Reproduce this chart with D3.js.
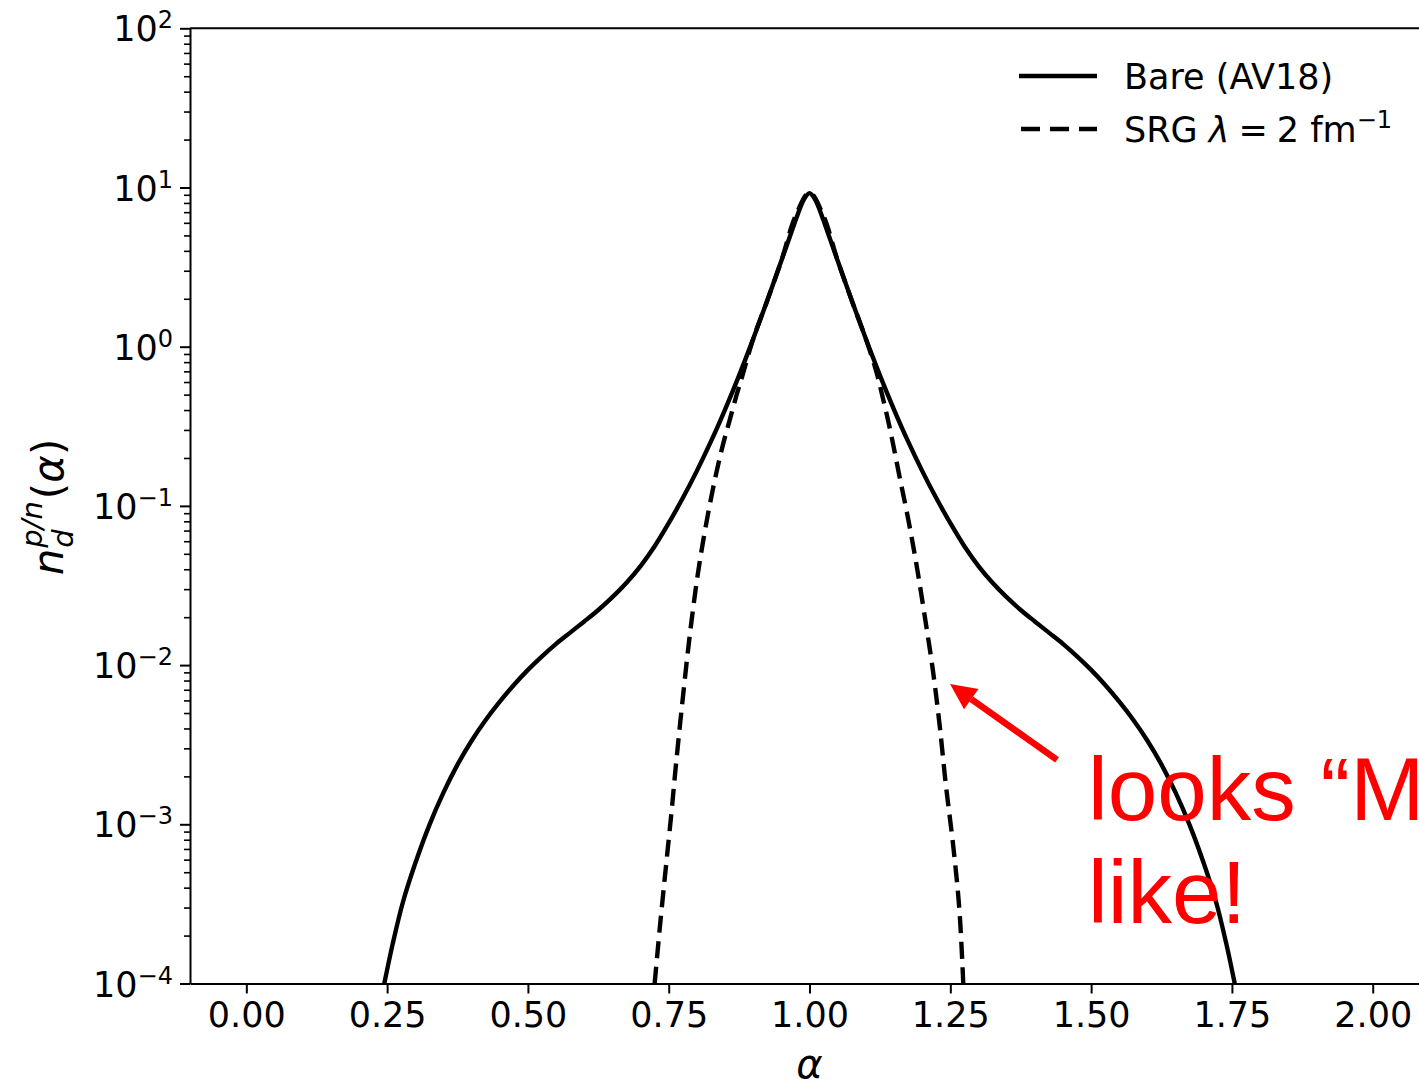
<!DOCTYPE html>
<html>
<head>
<meta charset="utf-8">
<script src="https://cdn.jsdelivr.net/npm/d3@7/dist/d3.min.js"></script>
<style>
  body { margin: 0; background: #fff; overflow: hidden; }
  svg { display: block; }
  text { font-family: "DejaVu Sans", sans-serif; }
</style>
</head>
<body>
<div id="wrapper"></div>
<script>
// Bare (AV18) curve
const bareAlpha = [0.245, 0.26, 0.278, 0.30, 0.325, 0.35, 0.375, 0.40, 0.425, 0.45, 0.475, 0.50, 0.525, 0.55, 0.575,
  0.60, 0.625, 0.65, 0.675, 0.70, 0.725, 0.75, 0.775, 0.80, 0.825, 0.85, 0.875, 0.90, 0.925, 0.95, 0.965, 0.98, 0.99,
  1.00,
  1.01, 1.02, 1.035, 1.05, 1.075, 1.10, 1.125, 1.15, 1.175, 1.20, 1.225, 1.25, 1.275, 1.30, 1.325, 1.35, 1.375,
  1.40, 1.425, 1.45, 1.475, 1.50, 1.525, 1.55, 1.575, 1.60, 1.625, 1.65, 1.675, 1.70, 1.722, 1.74, 1.755]
const bareN = [1.0e-4, 1.78e-4, 3.24e-4, 5.69e-4, 9.89e-4, 1.58e-3, 2.37e-3, 3.35e-3, 4.52e-3, 5.89e-3, 7.50e-3, 9.33e-3, 1.135e-2, 1.36e-2, 1.60e-2,
  1.88e-2, 2.22e-2, 2.67e-2, 3.29e-2, 4.19e-2, 5.58e-2, 7.80e-2, 0.112, 0.166, 0.254, 0.403, 0.661, 1.12, 1.95, 3.47, 4.9, 6.92, 8.41,
  9.22,
  8.41, 6.92, 4.9, 3.47, 1.95, 1.12, 0.661, 0.403, 0.254, 0.166, 0.112, 0.078, 0.0558, 0.0419, 0.0329, 0.0267, 0.0222,
  0.0188, 0.0160, 0.0136, 0.01135, 0.00933, 0.0075, 0.00589, 0.00452, 0.00335, 0.00237, 0.00158, 9.89e-4, 5.69e-4, 3.24e-4, 1.78e-4, 1.0e-4]

// SRG lambda = 2 fm^-1 curve
const srgAlpha = [0.725, 0.735, 0.745, 0.755, 0.763, 0.775, 0.787, 0.80, 0.81, 0.822, 0.834, 0.846, 0.858, 0.87, 0.881,
  0.90, 0.925, 0.95, 0.975, 1.00, 1.025, 1.05, 1.075, 1.10, 1.118, 1.13, 1.145, 1.159, 1.174, 1.189, 1.204, 1.219,
  1.231, 1.242, 1.255, 1.266, 1.273]
const srgN = [1.0e-4, 2.4e-4, 5.4e-4, 1.2e-3, 2.4e-3, 6.2e-3, 1.5e-2, 3.4e-2, 5.7e-2, 9.8e-2, 0.158, 0.24, 0.343, 0.49, 0.66,
  1.12, 1.95, 3.47, 6.6, 9.3, 6.6, 3.47, 1.95, 1.12, 0.71, 0.48, 0.28, 0.158, 0.087, 0.0447, 0.0209, 9.3e-3,
  4.2e-3, 1.78e-3, 7.4e-4, 2.95e-4, 1.0e-4]

const xTicks = [0, 0.25, 0.5, 0.75, 1.0, 1.25, 1.5, 1.75, 2.0]
const xTickLabels = ["0.00", "0.25", "0.50", "0.75", "1.00", "1.25", "1.50", "1.75", "2.00"]
const yExponents = [-4, -3, -2, -1, 0, 1, 2]
const yExpLabels = ["\u22124", "\u22123", "\u22122", "\u22121", "0", "1", "2"]

// annotation (data coords)
const noteLines = ["looks \u201cM", "like!"]
const noteAt = [1.4945, 1.06e-3]
const noteLine2At = [1.4945, 2.4e-4]
const arrowTail = [1.4395, 2.54e-3]
const arrowTip = [1.2495, 7.6e-3]

const dimensions = {
  width: 1419,
  height: 1086,
  margin: { top: 28.3, left: 190 },
}
dimensions.plotRight = dimensions.margin.left + 2.2 * 563.2
dimensions.plotBottom = 983.5

const svg = d3.select("#wrapper").append("svg")
  .attr("width", dimensions.width)
  .attr("height", dimensions.height)

const xScale = d3.scaleLinear()
  .domain([-0.1, 2.1])
  .range([dimensions.margin.left, dimensions.plotRight])

const yScale = d3.scaleLog()
  .domain([1e-4, 1e2])
  .range([dimensions.plotBottom, dimensions.margin.top])

svg.append("clipPath").attr("id", "clip")
  .append("rect")
  .attr("x", dimensions.margin.left)
  .attr("y", dimensions.margin.top)
  .attr("width", dimensions.plotRight - dimensions.margin.left)
  .attr("height", dimensions.plotBottom - dimensions.margin.top)

const line = d3.line()
  .x(d => xScale(d[0]))
  .y(d => yScale(d[1]))
  .curve(d3.curveCatmullRom.alpha(0.5))

const curves = svg.append("g").attr("clip-path", "url(#clip)")
curves.append("path")
  .datum(bareAlpha.map((a, i) => [a, bareN[i]]))
  .attr("d", line)
  .attr("fill", "none")
  .attr("stroke", "#000")
  .attr("stroke-width", 4.4)
  .attr("stroke-linejoin", "round")
curves.append("path")
  .datum(srgAlpha.map((a, i) => [a, srgN[i]]))
  .attr("d", line)
  .attr("fill", "none")
  .attr("stroke", "#000")
  .attr("stroke-width", 4.4)
  .attr("stroke-dasharray", "17,8.5")

// x axis
const xAxis = svg.append("g")
  .attr("transform", `translate(0, ${dimensions.plotBottom})`)
  .call(d3.axisBottom(xScale).tickValues(xTicks)
    .tickFormat((d, i) => xTickLabels[i]).tickSize(10).tickPadding(9).tickSizeOuter(0))
xAxis.select(".domain").attr("stroke-width", 2)
xAxis.selectAll(".tick line").attr("stroke-width", 2)
xAxis.selectAll(".tick text")
  .attr("font-size", 35)
  .attr("font-family", "DejaVu Sans")
  .attr("fill", "#000")

// y axis with log minor ticks
const yTickVals = yScale.ticks()
const isMajor = v => Math.abs(Math.log10(v) - Math.round(Math.log10(v))) < 1e-9
const yAxis = svg.append("g")
  .attr("transform", `translate(${dimensions.margin.left}, 0)`)
  .call(d3.axisLeft(yScale).tickValues(yTickVals).tickFormat("").tickSizeOuter(0))
yAxis.select(".domain").attr("stroke-width", 2)
yAxis.selectAll(".tick line")
  .attr("x2", d => isMajor(d) ? -10 : -6)
  .attr("stroke-width", d => isMajor(d) ? 2 : 1.6)

const yLabels = svg.append("g")
yExponents.forEach((e, i) => {
  const t = yLabels.append("text")
    .attr("x", dimensions.margin.left - 17)
    .attr("y", yScale(Math.pow(10, e)) + 13)
    .attr("text-anchor", "end")
    .attr("font-size", 35)
    .attr("fill", "#000")
  t.append("tspan").text("10")
  t.append("tspan").attr("dy", -13).attr("font-size", 24).text(yExpLabels[i])
})

// top spine
svg.append("line")
  .attr("x1", dimensions.margin.left).attr("x2", dimensions.plotRight)
  .attr("y1", dimensions.margin.top).attr("y2", dimensions.margin.top)
  .attr("stroke", "#000").attr("stroke-width", 2)

// x label
svg.append("text")
  .attr("x", xScale(1.0))
  .attr("y", 1078)
  .attr("text-anchor", "middle")
  .attr("font-size", 40)
  .attr("font-style", "italic")
  .text("\u03b1")

// y label  n_d^{p/n}(alpha)
const yLab = svg.append("g").attr("transform", "translate(63, 507) rotate(-90)")
const nT = yLab.append("text").attr("font-size", 42).attr("font-style", "italic").text("n")
const wn = nT.node().getComputedTextLength()
const supT = yLab.append("text").attr("x", wn + 1).attr("y", -21).attr("font-size", 29).attr("font-style", "italic").text("p/n")
const subT = yLab.append("text").attr("x", wn + 1).attr("y", 10).attr("font-size", 29).attr("font-style", "italic").text("d")
const wsc = Math.max(supT.node().getComputedTextLength(), subT.node().getComputedTextLength())
const parT = yLab.append("text").attr("x", wn + wsc + 3).attr("font-size", 42)
parT.append("tspan").text("(")
parT.append("tspan").attr("font-style", "italic").text("\u03b1")
parT.append("tspan").text(")")
const totalW = wn + wsc + 3 + parT.node().getComputedTextLength()
yLab.selectAll("text").attr("transform", `translate(${-totalW / 2}, 0)`)

// legend
const legend = svg.append("g")
legend.append("line").attr("x1", 1019).attr("x2", 1097).attr("y1", 76).attr("y2", 76)
  .attr("stroke", "#000").attr("stroke-width", 4.4)
legend.append("line").attr("x1", 1021).attr("x2", 1097).attr("y1", 129).attr("y2", 129)
  .attr("stroke", "#000").attr("stroke-width", 4.4).attr("stroke-dasharray", "19,10")
legend.append("text").attr("x", 1124).attr("y", 89).attr("font-size", 35).text("Bare (AV18)")
const srgT = legend.append("text").attr("x", 1124).attr("y", 142).attr("font-size", 35)
srgT.append("tspan").text("SRG ")
srgT.append("tspan").attr("font-style", "italic").text("\u03bb")
srgT.append("tspan").attr("dx", 9).text("=")
srgT.append("tspan").attr("dx", 9).text("2 fm")
srgT.append("tspan").attr("dy", -14).attr("font-size", 24).text("\u22121")

// red annotation
const [tx, ty] = [xScale(arrowTip[0]), yScale(arrowTip[1])]
const [sx, sy] = [xScale(arrowTail[0]), yScale(arrowTail[1])]
const ang = Math.atan2(sy - ty, sx - tx)
const headLen = 26, headHalf = 12.5
const bx = tx + headLen * Math.cos(ang), by = ty + headLen * Math.sin(ang)
svg.append("line")
  .attr("x1", sx).attr("y1", sy).attr("x2", bx).attr("y2", by)
  .attr("stroke", "#ff0000").attr("stroke-width", 6.5)
svg.append("polygon")
  .attr("points", [
    [tx, ty],
    [bx + headHalf * Math.sin(ang), by - headHalf * Math.cos(ang)],
    [bx - headHalf * Math.sin(ang), by + headHalf * Math.cos(ang)],
  ].map(p => p.join(",")).join(" "))
  .attr("fill", "#ff0000")

const note = svg.append("g")
  .attr("font-size", 89)
  .attr("fill", "#ff0000")
note.append("text").attr("x", xScale(noteAt[0])).attr("y", yScale(noteAt[1]))
  .style("font-family", "'Liberation Sans', Arial, sans-serif").text(noteLines[0])
note.append("text").attr("x", xScale(noteLine2At[0])).attr("y", yScale(noteLine2At[1]))
  .style("font-family", "'Liberation Sans', Arial, sans-serif").text(noteLines[1])
</script>
</body>
</html>
